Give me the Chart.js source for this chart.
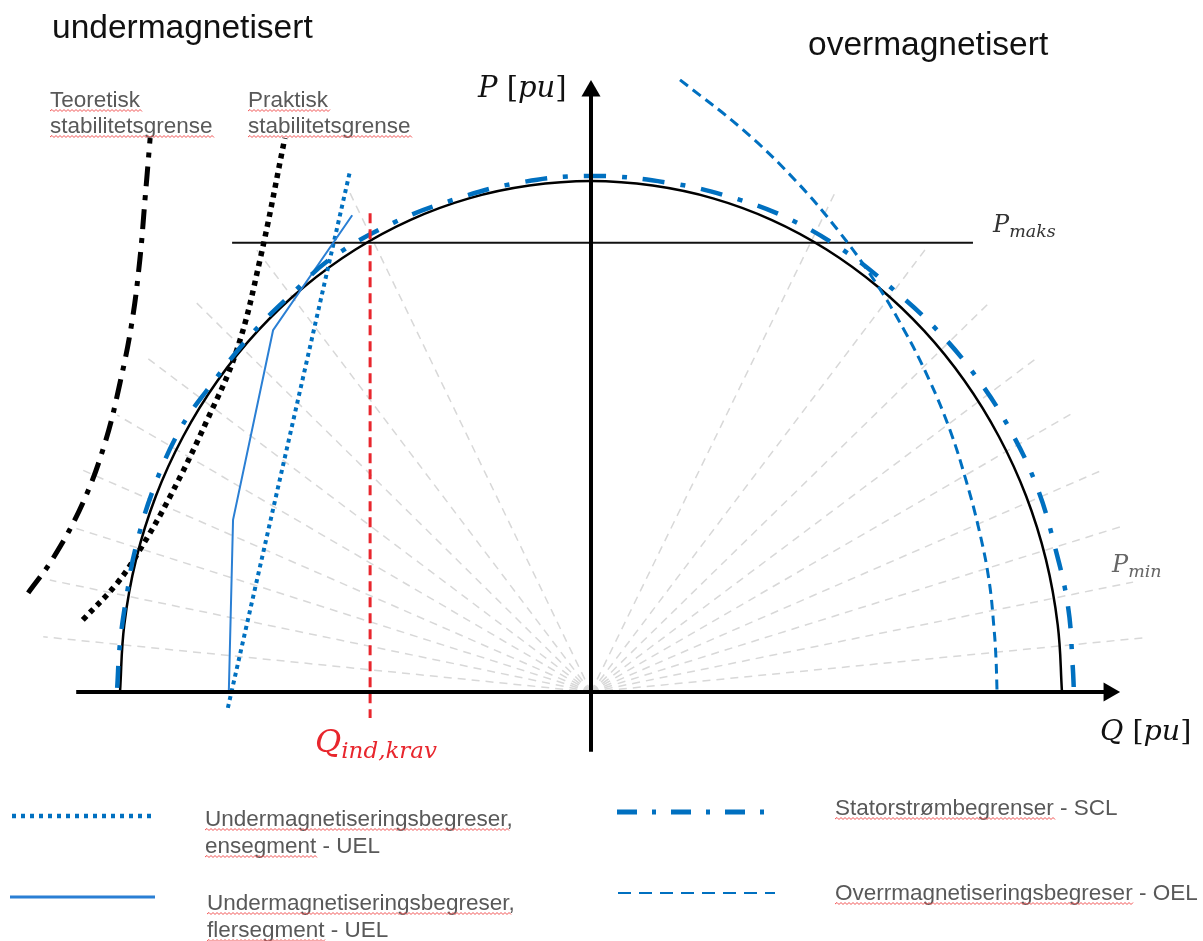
<!DOCTYPE html>
<html>
<head>
<meta charset="utf-8">
<title>PQ-diagram</title>
<script src="https://cdn.jsdelivr.net/npm/chart.js@4.4.1/dist/chart.umd.min.js"></script>
<style>
  html, body { margin: 0; padding: 0; background: #fff; }
  #wrap { position: relative; width: 1203px; height: 941px; }
</style>
</head>
<body>
<div id="wrap"><canvas id="pq"></canvas></div>
<script>
// All curve values in per unit (Q horizontal, P vertical)

// Generator capability circle (black)
const circleQ = [-1, -0.991, -0.966, -0.924, -0.866, -0.793, -0.707, -0.609, -0.5, -0.383, -0.259, -0.131, 0,
                 0.131, 0.259, 0.383, 0.5, 0.609, 0.707, 0.793, 0.866, 0.924, 0.966, 0.991, 1];
const circleP = [0, 0.131, 0.259, 0.383, 0.5, 0.609, 0.707, 0.793, 0.866, 0.924, 0.966, 0.991, 1,
                 0.991, 0.966, 0.924, 0.866, 0.793, 0.707, 0.609, 0.5, 0.383, 0.259, 0.131, 0];

// Statorstrømbegrenser - SCL
const sclQ = [-1.006, -1.000, -0.985, -0.968, -0.930, -0.873, -0.815, -0.718, -0.633, -0.548, -0.420, -0.293, -0.157, 0,
              0.168, 0.295, 0.416, 0.535, 0.635, 0.735, 0.820, 0.890, 0.947, 0.985, 1.013, 1.023, 1.025];
const sclP = [0.008, 0.096, 0.194, 0.278, 0.395, 0.513, 0.591, 0.703, 0.781, 0.851, 0.918, 0.963, 0.996, 1.010,
              0.996, 0.969, 0.928, 0.865, 0.793, 0.708, 0.614, 0.513, 0.401, 0.284, 0.166, 0.047, 0.008];

// Overmagnetiseringsbegreser - OEL
const oelQ = [0.189, 0.323, 0.433, 0.524, 0.601, 0.665, 0.718, 0.762, 0.796, 0.824, 0.845, 0.856, 0.860, 0.862];
const oelP = [1.198, 1.100, 1.002, 0.904, 0.806, 0.708, 0.611, 0.513, 0.415, 0.317, 0.219, 0.121, 0.063, 0.004];

// UEL, ensegment (dotted) and flersegment (solid)
const uel1Q = [-0.771, -0.512];
const uel1P = [-0.031, 1.018];
const uel2Q = [-0.769, -0.760, -0.675, -0.507];
const uel2P = [0, 0.337, 0.708, 0.933];

// Teoretisk / praktisk stabilitetsgrense
const theoQ = [-1.195, -1.142, -1.079, -1.032, -1.000, -0.975, -0.958, -0.947, -0.936];
const theoP = [0.194, 0.262, 0.370, 0.487, 0.605, 0.722, 0.845, 0.963, 1.084];
const praktQ = [-1.079, -1.006, -0.958, -0.894, -0.815, -0.752, -0.703, -0.650];
const praktP = [0.141, 0.213, 0.278, 0.382, 0.532, 0.669, 0.845, 1.084];

// Pmaks line and Q_ind,krav line
const pmaksQ = [-0.762, 0.811];
const pmaksP = [0.879, 0.879];
const kravQ = [-0.469, -0.469];
const kravP = [0.937, -0.051];

// Grey radial helper lines (outer ends, each starts in origin)
const rayQ = [-1.163, -1.149, -1.096, -1.079, -1.006, -0.943, -0.837, -0.713, -0.512,
              1.172, 1.151, 1.123, 1.085, 1.023, 0.947, 0.847, 0.709, 0.518];
const rayP = [0.108, 0.219, 0.321, 0.434, 0.542, 0.654, 0.761, 0.869, 0.977,
              0.106, 0.215, 0.323, 0.434, 0.546, 0.654, 0.763, 0.865, 0.977];

// Axes
const qAxisQ = [-1.093, 1.100];
const qAxisP = [0, 0];
const pAxisQ = [0, 0];
const pAxisP = [-0.117, 1.176];

const BLUE = '#0070c0';
const BLUE_LIGHT = '#2a7fd4';
const RED = '#e8262d';
const GREY_TXT = '#595959';

function pts(qs, ps) {
    return qs.map((q, i) => ({ x: q, y: ps[i] }));
}

const datasets = [];
function addLine(qs, ps, style) {
    datasets.push(Object.assign({
        data: pts(qs, ps),
        showLine: true,
        pointRadius: 0,
        pointHoverRadius: 0,
        fill: false,
        tension: 0
    }, style));
}

rayQ.forEach((q, i) => {
    addLine([0, q], [0, rayP[i]], { borderColor: '#d8d8d8', borderWidth: 1.5, borderDash: [8, 6], order: 9 });
});
addLine(circleQ, circleP, { borderColor: '#000', borderWidth: 2.5, tension: 0.4, order: 6 });
addLine(pmaksQ, pmaksP, { borderColor: '#111', borderWidth: 2, order: 6 });
addLine(uel2Q, uel2P, { borderColor: BLUE_LIGHT, borderWidth: 2, order: 4 });
addLine(uel1Q, uel1P, { borderColor: BLUE, borderWidth: 4, borderDash: [4, 4], order: 4 });
addLine(sclQ, sclP, { borderColor: BLUE, borderWidth: 4.5, borderDash: [22, 16, 5, 16], tension: 0.4, order: 3 });
addLine(oelQ, oelP, { borderColor: BLUE, borderWidth: 3, borderDash: [10, 6], tension: 0.4, order: 3 });
addLine(theoQ, theoP, { borderColor: '#000', borderWidth: 5, borderDash: [20, 9, 5, 9], tension: 0.4, order: 3 });
addLine(praktQ, praktP, { borderColor: '#000', borderWidth: 5.5, borderDash: [5, 5], tension: 0.4, order: 3 });
addLine(kravQ, kravP, { borderColor: RED, borderWidth: 3, borderDash: [10, 6], order: 2 });
addLine(qAxisQ, qAxisP, { borderColor: '#000', borderWidth: 4, order: 1 });
addLine(pAxisQ, pAxisP, { borderColor: '#000', borderWidth: 4, order: 1 });

// arrow heads at the axis ends
datasets.push({
    data: [{ x: qAxisQ[1], y: 0 }],
    showLine: false,
    pointStyle: 'triangle',
    pointRotation: 90,
    pointRadius: 11,
    pointHoverRadius: 11,
    backgroundColor: '#000',
    borderColor: '#000',
    borderWidth: 0,
    order: 0
});
datasets.push({
    data: [{ x: 0, y: pAxisP[1] }],
    showLine: false,
    pointStyle: 'triangle',
    pointRotation: 0,
    pointRadius: 11,
    pointHoverRadius: 11,
    backgroundColor: '#000',
    borderColor: '#000',
    borderWidth: 0,
    order: 0
});

const SANS = '"Liberation Sans", Arial, sans-serif';
const SERIF = '"DejaVu Serif", serif';

// red spell-check wave under a word
function squiggle(ctx, x0, x1, y) {
    ctx.save();
    ctx.strokeStyle = '#f05050';
    ctx.lineWidth = 1;
    ctx.setLineDash([]);
    ctx.beginPath();
    ctx.moveTo(x0, y);
    let up = true;
    for (let x = x0; x < x1; x += 2) {
        ctx.lineTo(x + 2, up ? y - 1.5 : y + 0.5);
        up = !up;
    }
    ctx.stroke();
    ctx.restore();
}

function text(ctx, str, x, y, font, color, wavyPart) {
    ctx.font = font;
    ctx.fillStyle = color;
    ctx.fillText(str, x, y);
    if (wavyPart) {
        const w = ctx.measureText(wavyPart).width;
        squiggle(ctx, x, x + w, y + 4);
    }
}

// pieces: [string, size, italic, dy]
function mathText(ctx, pieces, x, y, color) {
    ctx.fillStyle = color;
    let cx = x;
    pieces.forEach(([s, size, it, dy]) => {
        ctx.font = (it ? 'italic ' : '') + size + 'px ' + SERIF;
        ctx.fillText(s, cx, y + dy);
        cx += ctx.measureText(s).width;
    });
}

function sample(ctx, x0, x1, y, color, width, dash) {
    ctx.save();
    ctx.strokeStyle = color;
    ctx.lineWidth = width;
    ctx.setLineDash(dash);
    ctx.lineCap = 'butt';
    ctx.beginPath();
    ctx.moveTo(x0, y);
    ctx.lineTo(x1, y);
    ctx.stroke();
    ctx.restore();
}

const labelPlugin = {
    id: 'pqLabels',
    afterDraw(chart) {
        const ctx = chart.ctx;
        ctx.save();
        ctx.textBaseline = 'alphabetic';
        ctx.textAlign = 'left';

        text(ctx, 'undermagnetisert', 52, 38, '33.5px ' + SANS, '#111');
        text(ctx, 'overmagnetisert', 808, 55, '33.5px ' + SANS, '#111');

        text(ctx, 'Teoretisk', 50, 107, '22.5px ' + SANS, GREY_TXT, 'Teoretisk');
        text(ctx, 'stabilitetsgrense', 50, 133, '22.5px ' + SANS, GREY_TXT, 'stabilitetsgrense');
        text(ctx, 'Praktisk', 248, 107, '22.5px ' + SANS, GREY_TXT, 'Praktisk');
        text(ctx, 'stabilitetsgrense', 248, 133, '22.5px ' + SANS, GREY_TXT, 'stabilitetsgrense');

        mathText(ctx, [['P', 29, true, 0], [' [', 29, false, 0], ['pu', 29, true, 0], [']', 29, false, 0]], 478, 97, '#111');
        mathText(ctx, [['Q', 28.5, true, 0], [' [', 28.5, false, 0], ['pu', 28.5, true, 0], [']', 28.5, false, 0]], 1100, 740, '#111');
        mathText(ctx, [['P', 24, true, 0], ['maks', 17.5, true, 5]], 993, 232, '#333');
        mathText(ctx, [['P', 24, true, 0], ['min', 17.5, true, 5]], 1112, 572, '#666');
        mathText(ctx, [['Q', 32, true, 0], ['ind,krav', 23, true, 6]], 315, 752, RED);

        // legend
        sample(ctx, 12, 155, 816, BLUE, 4.5, [4, 5]);
        sample(ctx, 10, 155, 897, BLUE_LIGHT, 3, []);
        sample(ctx, 617, 765, 812, BLUE, 5, [20, 15, 4, 15]);
        sample(ctx, 618, 775, 893, BLUE, 2, [13, 8]);

        const lf = '22.5px ' + SANS;
        text(ctx, 'Undermagnetiseringsbegreser,', 205, 826, lf, GREY_TXT, 'Undermagnetiseringsbegreser');
        text(ctx, 'ensegment - UEL', 205, 853, lf, GREY_TXT, 'ensegment');
        text(ctx, 'Undermagnetiseringsbegreser,', 207, 910, lf, GREY_TXT, 'Undermagnetiseringsbegreser');
        text(ctx, 'flersegment - UEL', 207, 937, lf, GREY_TXT, 'flersegment');
        text(ctx, 'Statorstrømbegrenser - SCL', 835, 815, lf, GREY_TXT, 'Statorstrømbegrenser');
        text(ctx, 'Overrmagnetiseringsbegreser - OEL', 835, 900, lf, GREY_TXT, 'Overrmagnetiseringsbegreser');

        ctx.restore();
    }
};

new Chart(document.getElementById('pq'), {
    type: 'scatter',
    data: { datasets: datasets },
    options: {
        responsive: true,
        maintainAspectRatio: false,
        animation: false,
        events: [],
        layout: { padding: 0, autoPadding: false },
        plugins: {
            legend: { display: false },
            tooltip: { enabled: false },
            title: { display: false }
        },
        scales: {
            x: { type: 'linear', min: -1.2548, max: 1.2994, display: false },
            y: { type: 'linear', min: -0.4873, max: 1.3542, display: false }
        }
    },
    plugins: [labelPlugin]
});
</script>
</body>
</html>
